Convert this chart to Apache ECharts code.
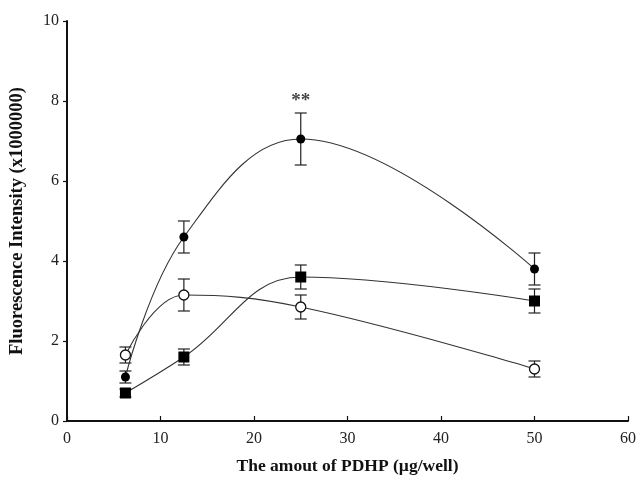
<!DOCTYPE html>
<html>
<head>
<meta charset="utf-8">
<script src="https://cdn.jsdelivr.net/npm/echarts@6/dist/echarts.min.js"></script>
<style>
    html, body { margin: 0; padding: 0; background: #fff; }
    #chart { width: 642px; height: 480px; }
</style>
</head>
<body>
<div id="chart"></div>
<script>
// PDHP amount (µg/well)
const doses = [6.25, 12.5, 25, 50]
// filled circles
const filledCircle = [1.1, 4.6, 7.05, 3.8]
const filledCircleErr = [0.15, 0.4, 0.65, 0.4]
// filled squares
const filledSquare = [0.7, 1.6, 3.6, 3.0]
const filledSquareErr = [0.1, 0.2, 0.3, 0.3]
// open circles
const openCircle = [1.65, 3.15, 2.85, 1.3]
const openCircleErr = [0.2, 0.4, 0.3, 0.2]

const xTicks = [0, 10, 20, 30, 40, 50, 60]
const yTicks = [0, 2, 4, 6, 8, 10]

const serif = 'Liberation Serif'

function pairs(ys) {
    return doses.map((x, i) => [x, ys[i]])
}

function errData(ys, errs) {
    return doses.map((x, i) => [x, ys[i] - errs[i], ys[i] + errs[i]])
}

function errorBars(name, ys, errs) {
    return {
        name: name + ' err',
        type: 'custom',
        z: 1,
        data: errData(ys, errs),
        renderItem: (params, api) => {
            const lo = api.coord([api.value(0), api.value(1)])
            const hi = api.coord([api.value(0), api.value(2)])
            const w = 6
            const style = { stroke: '#222', lineWidth: 1.2 }
            return {
                type: 'group',
                children: [
                    { type: 'line', shape: { x1: lo[0], y1: lo[1], x2: hi[0], y2: hi[1] }, style },
                    { type: 'line', shape: { x1: lo[0] - w, y1: lo[1], x2: lo[0] + w, y2: lo[1] }, style },
                    { type: 'line', shape: { x1: hi[0] - w, y1: hi[1], x2: hi[0] + w, y2: hi[1] }, style }
                ]
            }
        }
    }
}

function lineSeries(name, ys, symbol, size, fill) {
    return {
        name: name,
        type: 'line',
        smooth: 0.4,
        z: 3,
        data: pairs(ys),
        symbol: symbol,
        symbolSize: size,
        showAllSymbol: true,
        lineStyle: { color: '#333', width: 1.1 },
        itemStyle: { color: fill, borderColor: '#111', borderWidth: fill === '#fff' ? 1.3 : 0 }
    }
}

const myCharts = echarts.init(document.getElementById('chart'))

const option = {
    animation: false,
    backgroundColor: '#fff',
    grid: { left: 67, right: 14, top: 21, bottom: 58, containLabel: false },
    xAxis: {
        type: 'value',
        min: 0,
        max: 60,
        interval: 10,
        name: 'The amout of PDHP (\u00b5g/well)',
        nameLocation: 'middle',
        nameGap: 36,
        nameTextStyle: { fontFamily: serif, fontWeight: 'bold', fontSize: 17.5, color: '#111' },
        axisLine: { lineStyle: { color: '#111', width: 2 } },
        axisTick: { inside: true, length: 5, lineStyle: { color: '#111', width: 1.2 } },
        axisLabel: {
            fontFamily: serif, fontSize: 16, color: '#222', margin: 10,
            formatter: v => xTicks.includes(v) ? String(v) : ''
        },
        splitLine: { show: false }
    },
    yAxis: {
        type: 'value',
        min: 0,
        max: 10,
        interval: 2,
        name: 'Fluorescence Intensity (x1000000)',
        nameLocation: 'middle',
        nameGap: 40,
        nameTextStyle: { fontFamily: serif, fontWeight: 'bold', fontSize: 18.5, color: '#111' },
        axisLine: { show: true, lineStyle: { color: '#111', width: 2 } },
        axisTick: { show: true, length: 4, lineStyle: { color: '#111', width: 1.2 } },
        axisLabel: {
            fontFamily: serif, fontSize: 16, color: '#222', margin: 8,
            formatter: v => yTicks.includes(v) ? String(v) : ''
        },
        splitLine: { show: false }
    },
    series: [
        errorBars('filledCircle', filledCircle, filledCircleErr),
        errorBars('filledSquare', filledSquare, filledSquareErr),
        errorBars('openCircle', openCircle, openCircleErr),
        lineSeries('filledCircle', filledCircle, 'circle', 9, '#000'),
        lineSeries('filledSquare', filledSquare, 'rect', 11, '#000'),
        lineSeries('openCircle', openCircle, 'circle', 10, '#fff'),
        {
            name: 'significance',
            type: 'scatter',
            symbolSize: 0,
            data: [[doses[2], filledCircle[2] + filledCircleErr[2]]],
            label: {
                show: true,
                position: 'top',
                distance: 2,
                formatter: '**',
                fontFamily: serif,
                fontWeight: 'bold',
                fontSize: 19,
                color: '#111'
            },
            z: 4
        }
    ]
}

myCharts.setOption(option)
window.addEventListener('resize', () => myCharts.resize())
</script>
</body>
</html>
